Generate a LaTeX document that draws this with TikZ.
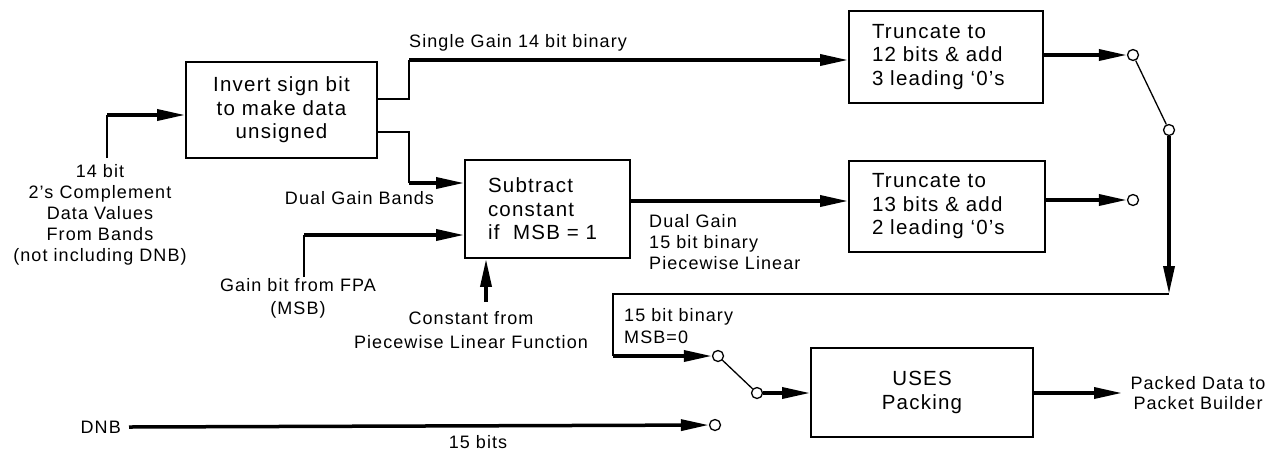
\documentclass[tikz,border=0pt]{standalone}
\usepackage{fontspec}
\setmainfont{Liberation Sans}[LetterSpace=6]
\usetikzlibrary{arrows.meta}
\begin{document}
\begin{tikzpicture}[x=1pt,y=-1pt,
  box/.style={draw, line width=1.8pt, inner ysep=0pt, font=\fontsize{20.5}{23.5}\selectfont},
  lbl/.style={inner sep=0pt, font=\fontsize{18}{21}\selectfont},
  thn/.style={line width=1.8pt},
  thk/.style={line width=3.5pt, -{Triangle[length=28pt,width=11pt]}},
  swl/.style={line width=1.3pt},
  sw/.style={circle, draw, fill=white, line width=1.3pt, minimum size=11pt, inner sep=0pt}
]
\useasboundingbox (0,0) rectangle (1281,451);
% boxes
\node[box, inner xsep=0pt, minimum width=191pt, minimum height=96pt, align=center] (inv) at (281.5,110) {Invert sign bit\\to make data\\unsigned};
\node[box, inner xsep=23pt, text width=119pt, minimum height=98pt, align=left] (sub) at (547.5,209) {Subtract\\constant\\if~ MSB = 1};
\node[box, inner xsep=23pt, text width=148pt, minimum height=92pt, align=left] (tr1) at (946,57) {Truncate to\\12 bits \& add\\3 leading ‘0’s};
\node[box, inner xsep=23pt, text width=150pt, minimum height=91pt, align=left] (tr2) at (947,206.5) {Truncate to\\13 bits \& add\\2 leading ‘0’s};
\node[box, inner xsep=0pt, minimum width=222pt, minimum height=89pt, align=center] (uses) at (922,392.5) {USES\\Packing};
% switch contacts
\node[sw] (c1) at (1133,55) {};
\node[sw] (c2) at (1133,200) {};
\node[sw] (c3) at (1169,130) {};
\node[sw] (c4) at (718,356) {};
\node[sw] (c5) at (757,393) {};
\node[sw] (c6) at (715,425) {};
% labels
\node[lbl, anchor=west] (lsg) at (409,43) {Single Gain 14 bit binary};
\node[lbl] (ldgb) at (359.5,198) {Dual Gain Bands};
\node[lbl, align=center] (l14) at (100,214.5) {14 bit\\2’s Complement\\Data Values\\From Bands\\(not including DNB)};
\node[lbl, align=center, font=\fontsize{18}{23}\selectfont] (lgain) at (298,298.5) {Gain bit from FPA\\(MSB)};
\node[lbl, align=center, font=\fontsize{18}{24}\selectfont] (lconst) at (471,330) {Constant from\\Piecewise Linear Function};
\node[lbl, anchor=west, align=left] (ldg) at (649,242) {Dual Gain\\15 bit binary\\Piecewise Linear};
\node[lbl, anchor=west, align=left, font=\fontsize{18}{22}\selectfont] (l15) at (624,326) {15 bit binary\\MSB=0};
\node[lbl, align=center, font=\fontsize{18}{20}\selectfont] (lpk) at (1198,393) {Packed Data to\\Packet Builder};
\node[lbl, anchor=east] (dnb) at (121,427) {DNB};
\node[lbl] (l15b) at (478,442) {15 bits};
% coordinates
\coordinate (in0) at (107,158);
\coordinate (in1) at (107,115);
\coordinate (a1) at (409,99);
\coordinate (a2) at (409,60);
\coordinate (b1) at (409,132);
\coordinate (b2) at (409,183);
\coordinate (g0) at (304,277);
\coordinate (g1) at (304,235);
\coordinate (k0) at (486,302);
\coordinate (s1) at (630,201);
\coordinate (d0) at (1169,294);
\coordinate (d1) at (613,294);
\coordinate (d2) at (613,356);
\coordinate (out) at (1122,393);
\coordinate (dn0) at (129,427);
% connectors
\draw[thn] (in0) -- (in1);
\draw[thk] (in1) -- (in1 -| inv.west);
\draw[thn] (inv.east |- a1) -- (a1) -- (a2);
\draw[thk] (a2) -- (a2 -| tr1.west);
\draw[thn] (inv.east |- b1) -- (b1) -- (b2);
\draw[thk] (b2) -- (b2 -| sub.west);
\draw[thn] (g0) -- (g1);
\draw[thk] (g1) -- (g1 -| sub.west);
\draw[thk] (k0) -- (k0 |- sub.south);
\draw[thk] (s1) -- (s1 -| tr2.west);
\draw[thk] (tr1.east |- c1) -- (c1);
\draw[thk] (tr2.east |- c2) -- (c2);
\draw[swl] (c1) -- (c3);
\draw[thk] (c3) -- (d0);
\draw[thn] (d0) -- (d1) -- (d2);
\draw[thk] (d2) -- (c4);
\draw[swl] (c4) -- (c5);
\draw[thk] (c5) -- (c5 -| uses.west);
\draw[thk] (uses.east |- out) -- (out);
\draw[thk] (dn0) -- (c6);
\end{tikzpicture}
\end{document}
